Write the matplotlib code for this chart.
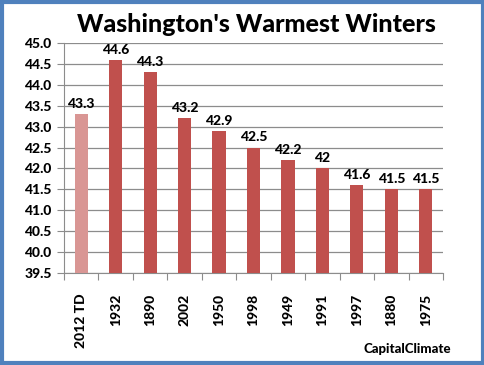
import matplotlib.pyplot as plt
from matplotlib.patches import Rectangle

# Dati
years = ["2012 TD", "1932", "1890", "2002", "1950", "1998", "1949", "1991", "1997", "1880", "1975"]
temps = [43.3, 44.6, 44.3, 43.2, 42.9, 42.5, 42.2, 42.0, 41.6, 41.5, 41.5]
value_labels = ["43.3", "44.6", "44.3", "43.2", "42.9", "42.5", "42.2", "42", "41.6", "41.5", "41.5"]
y_ticks = [39.5, 40.0, 40.5, 41.0, 41.5, 42.0, 42.5, 43.0, 43.5, 44.0, 44.5, 45.0]

plt.rcParams['font.family'] = ['Lato', 'DejaVu Sans']
W = 'black'

fig = plt.figure(figsize=(4.85, 3.65), dpi=100)
ax = fig.add_axes([64 / 485, 1 - 273 / 365, (443 - 64) / 485, (273 - 43) / 365])

colors = ['#D99694'] + ['#C0504D'] * (len(years) - 1)
x = range(len(years))
ax.bar(x, [t - 39.5 for t in temps], bottom=39.5, width=0.38, color=colors, zorder=3)

# Etichette sopra le barre
for xi, t, lab in zip(x, temps, value_labels):
    ax.text(xi, t + 0.1, lab, ha='center', va='bottom', fontsize=10, fontweight=W)

ax.set_ylim(39.5, 45.0)
ax.set_xlim(-0.5, len(years) - 0.5)
ax.set_yticks(y_ticks)
ax.set_yticklabels([f"{v:.1f}" for v in y_ticks], fontsize=10, fontweight=W)
ax.yaxis.grid(True, color='#8c8c8c', linewidth=0.9, zorder=0)

ax.set_xticks([i + 0.5 for i in range(-1, len(years))], minor=False)
ax.set_xticklabels([])
ax.set_xticks(list(x), minor=True)
ax.set_xticklabels(years, minor=True, rotation=90, fontsize=10, fontweight=W)
ax.tick_params(axis='x', which='minor', length=0, pad=15)
ax.tick_params(axis='x', which='major', length=5, color='#8c8c8c', direction='out')
ax.tick_params(axis='y', length=5, color='#8c8c8c', direction='out', pad=4)

for side in ['top', 'right']:
    ax.spines[side].set_visible(False)
ax.spines['left'].set_color('#8c8c8c')
ax.spines['bottom'].set_color('#8c8c8c')

fig.text(256 / 485, 1 - 24 / 365, "Washington's Warmest Winters", ha='center', va='center',
         fontsize=18, fontweight=W)
fig.text(451 / 485, 1 - 349 / 365, "CapitalClimate", ha='right', va='center',
         fontsize=9.5, fontweight=W)

# Bordo blu
fig.patches.append(Rectangle((2 / 485, 2 / 365), 1 - 4 / 485, 1 - 4 / 365, transform=fig.transFigure,
                             fill=False, edgecolor='#4F81BD', linewidth=3))

fig.savefig("out.png", dpi=100)
